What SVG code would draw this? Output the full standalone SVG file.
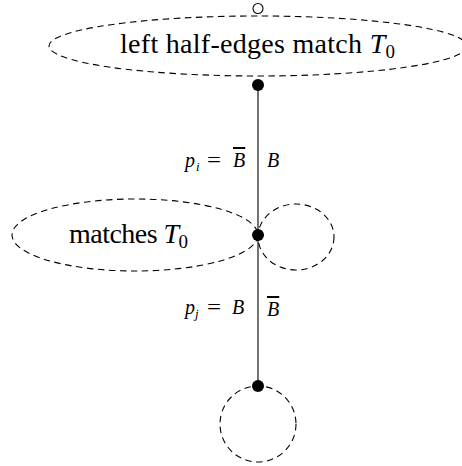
<svg xmlns="http://www.w3.org/2000/svg" width="462" height="466" viewBox="0 0 462 466">
<style>
.dash{fill:none;stroke:#000;stroke-width:1.1;stroke-dasharray:6.5 4.5}
.edge{stroke:#000;stroke-width:1.1;fill:none}
.dot{fill:#000}
.t{font-family:"Liberation Serif","Times New Roman",serif;fill:#000}
.big{font-size:28px}
.lab{font-size:20px}
.sub{font-size:13px}
.it{font-style:italic}
.ov{text-decoration:overline}
</style>
<rect width="462" height="466" fill="#fff"/>
<g id="connectors">
<line class="edge" x1="258" y1="85" x2="258" y2="386"/>
</g>
<g id="top-region">
<ellipse class="dash" cx="258" cy="46" rx="209" ry="30"/>
<text class="t big" x="120" y="53" textLength="275" lengthAdjust="spacing">left half-edges match <tspan class="it">T</tspan><tspan font-size="19" dy="5">0</tspan></text>
</g>
<g id="top-open">
<circle cx="258" cy="8.5" r="5" fill="#fff" stroke="#000" stroke-width="1.1"/>
</g>
<g id="v1"><circle class="dot" cx="258" cy="85" r="6"/></g>
<g id="left-region">
<ellipse class="dash" cx="135" cy="235" rx="123" ry="36"/>
<text class="t big" x="69" y="243" textLength="119" lengthAdjust="spacing">matches <tspan class="it">T</tspan><tspan font-size="19" dy="5">0</tspan></text>
</g>
<g id="right-loop"><ellipse class="dash" cx="296" cy="237" rx="38" ry="33"/></g>
<g id="v2"><circle class="dot" cx="258" cy="235" r="6"/></g>
<g id="bottom-loop"><circle class="dash" cx="258" cy="424" r="38"/></g>
<g id="v3"><circle class="dot" cx="258" cy="386" r="6"/></g>
<g id="labels">
<text class="t lab it" x="185" y="167">p</text>
<text class="t sub it" x="196" y="171">i</text>
<text class="t lab" x="207" y="167" textLength="14" lengthAdjust="spacingAndGlyphs">=</text>
<text class="t lab it ov" x="233" y="167">B</text>
<text class="t lab it" x="267" y="167">B</text>
<text class="t lab it" x="185" y="314">p</text>
<text class="t sub it" x="195" y="318">j</text>
<text class="t lab" x="207" y="314" textLength="14" lengthAdjust="spacingAndGlyphs">=</text>
<text class="t lab it" x="232" y="314">B</text>
<text class="t lab it ov" x="267" y="316">B</text>
</g>
</svg>
